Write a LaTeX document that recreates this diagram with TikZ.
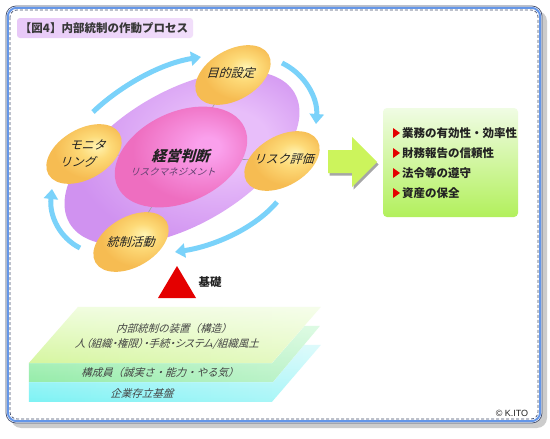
\documentclass[tikz,border=0pt]{standalone}
\usepackage{fontspec}
\setmainfont{Noto Sans CJK JP}
\newfontfamily\jpp{Noto Sans CJK JP}[RawFeature=+palt]
\newfontfamily\latinsans{Liberation Sans}
\usetikzlibrary{shapes.geometric,arrows.meta,shadings,fadings}

\definecolor{oLight}{RGB}{255,244,178}
\definecolor{oMid}{RGB}{253,218,120}
\definecolor{oBase}{RGB}{246,188,82}
\definecolor{pLight}{RGB}{232,190,250}
\definecolor{pBase}{RGB}{208,146,240}
\definecolor{kLight}{RGB}{250,160,236}
\definecolor{kBase}{RGB}{238,110,192}
\definecolor{cycBlue}{RGB}{122,210,250}
\definecolor{txt}{RGB}{34,34,34}
\definecolor{frameBlue}{RGB}{100,150,232}
\definecolor{frameDark}{RGB}{70,80,110}
\definecolor{arrGreen}{RGB}{204,244,92}
\definecolor{boxTop}{RGB}{240,252,228}
\definecolor{boxBot}{RGB}{178,240,92}
\definecolor{triRed}{RGB}{228,0,0}
\definecolor{l1Top}{RGB}{240,253,222}
\definecolor{l1Bot}{RGB}{214,246,160}
\definecolor{l2Top}{RGB}{200,248,210}
\definecolor{l2Bot}{RGB}{150,236,170}
\definecolor{l3Top}{RGB}{200,248,250}
\definecolor{l3Bot}{RGB}{125,242,244}

\pgfdeclareradialshading{orangeball}{\pgfpoint{8bp}{6bp}}{color(0bp)=(oLight); color(9bp)=(oMid); color(22bp)=(oBase); color(50bp)=(oBase)}
\pgfdeclareradialshading{purpball}{\pgfpoint{10bp}{5bp}}{color(0bp)=(pLight); color(8bp)=(pLight); color(26bp)=(pBase); color(50bp)=(pBase)}
\pgfdeclareradialshading{pinkball}{\pgfpoint{10bp}{5bp}}{color(0bp)=(kLight); color(4bp)=(kLight); color(22bp)=(kBase); color(50bp)=(kBase)}
\tikzfading[name=fadeR, left color=transparent!0, right color=transparent!40]

\tikzset{
  bigell/.style={ellipse, minimum width=260pt, minimum height=134pt, inner sep=0pt, rotate=30, shading=purpball},
  pinkell/.style={ellipse, minimum width=140pt, minimum height=90pt, inner sep=0pt, rotate=25, shading=pinkball},
  phase/.style={ellipse, minimum width=82pt, minimum height=50pt, inner sep=0pt, rotate=30, shading=orangeball},
  ital/.style={xslant=0.3, transform shape},
  phaselbl/.style={ital, font=\fontsize{12}{14}\selectfont, text=txt, inner sep=0pt},
  cyc/.style={line width=5pt, draw=cycBlue, -{Triangle[width=14pt,length=10pt]}},
  spoke/.style={draw=gray!75, line width=0.6pt},
  item/.style={font=\bfseries\fontsize{11.5}{13}\selectfont, text=txt, anchor=west, inner sep=0pt},
  layertxt/.style={ital, font=\fontsize{10.5}{12}\selectfont, text=txt!85, inner sep=0pt},
}

\begin{document}
\begin{tikzpicture}[x=1pt,y=-1pt]
\useasboundingbox (0,0) rectangle (550,439);
\fill[white] (0,0) rectangle (550,439);
% frame
\fill[gray!40, rounded corners=10pt] (11,11) rectangle (547,428);
\node[draw=frameDark, line width=0.7pt, fill=white, rounded corners=10pt, minimum width=536pt, minimum height=417pt, inner sep=0pt] (frame) at (274,214.5) {};
\draw[frameBlue, line width=2pt, rounded corners=9pt] (7.8,7.8) rectangle (540.2,421.2);
\draw[frameDark, line width=0.7pt, dash pattern=on 3pt off 2pt, rounded corners=7pt] (10,10) rectangle (538,419);

% title
\node[rounded corners=3pt, left color=pBase!50, right color=pBase!30, minimum width=176pt, minimum height=20pt, inner sep=0pt] (titlebox) at (105,28) {};
\node[font=\bfseries\fontsize{11.5}{13}\selectfont, text=txt!90, inner sep=0pt] (title) at (104,28) {【図4】内部統制の作動プロセス};

% cycle
\node[bigell] (big) at (182,158) {};
\coordinate (pc) at (181,157);
\coordinate (c1) at (233,75);
\coordinate (c2) at (282,161);
\coordinate (c3) at (131,242);
\coordinate (c4) at (84,154);
\draw[spoke] (pc) -- (c1) (pc) -- (c2) (pc) -- (c3) (pc) -- (c4);
\node[pinkell] (pink) at (pc) {};
\node[phase] (goal) at (c1) {};
\node[phase] (risk) at (c2) {};
\node[phase] (ctrl) at (c3) {};
\node[phase] (mon) at (c4) {};
\begin{scope}[shift={(232,73)}]\node[phaselbl] (goalt) at (0,0) {目的設定};\end{scope}
\begin{scope}[shift={(285,159)}]\node[phaselbl] (riskt) at (0,0) {リスク評価};\end{scope}
\begin{scope}[shift={(132,242)}]\node[phaselbl] (ctrlt) at (0,0) {統制活動};\end{scope}
\begin{scope}[shift={(89,145)}]\node[phaselbl] (mont1) at (0,0) {モニタ};\end{scope}
\begin{scope}[shift={(79,162)}]\node[phaselbl] (mont2) at (0,0) {リング};\end{scope}
\begin{scope}[shift={(182,156)}]\node[ital, font=\bfseries\fontsize{14.5}{16}\selectfont, text=txt, inner sep=0pt] (judge) at (0,0) {経営判断};\end{scope}
\begin{scope}[shift={(174,172)}]\node[ital, font=\fontsize{9.5}{11}\selectfont, text={rgb,255:red,96;green,64;blue,110}, inner sep=0pt] (rm) at (0,0) {リスクマネジメント};\end{scope}

\draw[cyc] (93,112) .. controls (118,88) and (158,64) .. (201,57);
\draw[cyc] (282,63) .. controls (305,74) and (318,98) .. (316,124);
\draw[cyc] (277,202) .. controls (255,228) and (215,246) .. (175,252);
\draw[cyc] (80,248) .. controls (60,238) and (49,216) .. (52,189);

% green arrow
\fill[gray!70] (329.5,152.5) -- (353.5,152.5) -- (353.5,139.5) -- (378.5,164.5) -- (353.5,189.5) -- (353.5,175.5) -- (329.5,175.5) -- cycle;
\fill[arrGreen] (328,150) -- (352,150) -- (352,137) -- (377,162) -- (352,187) -- (352,173) -- (328,173) -- cycle;

% objectives box
\node[rounded corners=4pt, top color=boxTop, bottom color=boxBot, minimum width=135pt, minimum height=109pt, inner sep=0pt] (goals) at (450.5,162.5) {};
\foreach \yy in {133,153,173,193}{
  \fill[triRed] (393,\yy-5) -- (400,\yy) -- (393,\yy+5) -- cycle;
}
\node[item] (g1) at (402,133) {業務の有効性・効率性};
\node[item] (g2) at (402,153) {財務報告の信頼性};
\node[item] (g3) at (402,173) {法令等の遵守};
\node[item] (g4) at (402,193) {資産の保全};

% foundation triangle
\fill[triRed] (177,266) -- (196,298) -- (158,298) -- cycle;
\node[font=\bfseries\fontsize{11.5}{13}\selectfont, text=txt, inner sep=0pt] (kiso) at (210,282) {基礎};

% layers
\fill[white] (29,402) -- (29,382) -- (100,345) -- (321,345) -- (272,402) -- cycle;
\shade[top color=l3Top, bottom color=l3Bot, path fading=fadeR] (29,402) -- (29,382) -- (100,345) -- (321,345) -- (272,402) -- cycle;
\fill[white] (29,382) -- (29,363) -- (90,326) -- (320,326) -- (273,382) -- cycle;
\shade[top color=l2Top, bottom color=l2Bot, path fading=fadeR] (29,382) -- (29,363) -- (90,326) -- (320,326) -- (273,382) -- cycle;
\fill[white] (78,307) -- (321,307) -- (272,363) -- (29,363) -- cycle;
\shade[top color=l1Top, bottom color=l1Bot, path fading=fadeR] (78,307) -- (321,307) -- (272,363) -- (29,363) -- cycle;
\begin{scope}[shift={(175,329)}]\node[layertxt] (l1a) at (0,0) {内部統制の装置（構造）};\end{scope}
\begin{scope}[shift={(168,344)}]\node[layertxt, font=\jpp\fontsize{10.5}{12}\selectfont] (l1b) at (0,0) {人（組織・権限）・手続・システム/組織風土};\end{scope}
\begin{scope}[shift={(161,373)}]\node[layertxt] (l2) at (0,0) {構成員（誠実さ・能力・やる気）};\end{scope}
\begin{scope}[shift={(143,393)}]\node[layertxt] (l3) at (0,0) {企業存立基盤};\end{scope}

\node[font=\latinsans\fontsize{9}{10}\selectfont, text=txt, inner sep=0pt] (copy) at (512,413) {© K.ITO};
\end{tikzpicture}
\end{document}
